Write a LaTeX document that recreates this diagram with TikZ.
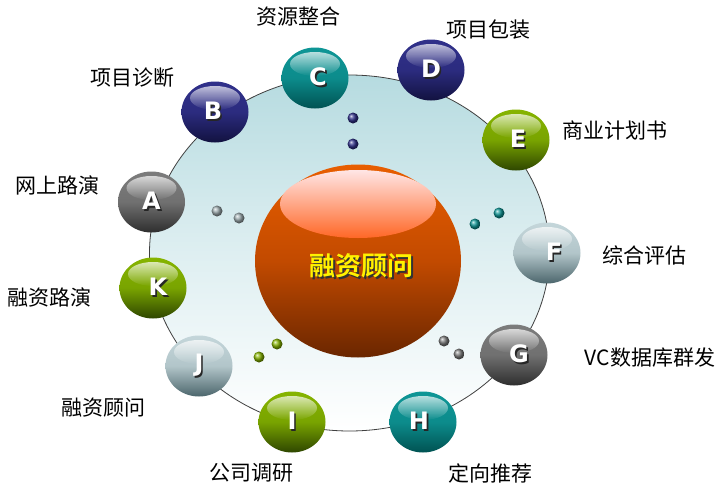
\documentclass[tikz,border=0pt]{standalone}
\usepackage{fontspec}
\newfontfamily\cjk{Noto Sans CJK SC}[BoldFont={Noto Sans CJK SC Bold}]
\newfontfamily\lat{DejaVu Sans}
\usetikzlibrary{shapes.geometric,fadings,calc}
\definecolor{navyA}{HTML}{30308A}\definecolor{navyB}{HTML}{121240}
\definecolor{tealA}{HTML}{0E9696}\definecolor{tealB}{HTML}{005252}
\definecolor{greenA}{HTML}{86B400}\definecolor{greenB}{HTML}{2E4600}
\definecolor{grayA}{HTML}{7C7C7C}\definecolor{grayB}{HTML}{2E2E2E}
\definecolor{paleA}{HTML}{C4D6DA}\definecolor{paleB}{HTML}{4C666C}
\definecolor{ringtop}{HTML}{B6DBE0}
\definecolor{orangeA}{HTML}{E85E00}\definecolor{orangeM}{HTML}{C24A00}\definecolor{orangeB}{HTML}{6A2600}
\newcommand\shadowtext[3]{\makebox[0pt][l]{\kern#3\raisebox{-#3}{\textcolor{#2}{#1}}}#1}
\tikzset{
  ballbase/.style={ellipse, minimum width=67pt, minimum height=61pt, inner sep=0pt},
  lbl/.style={font=\cjk\fontsize{21}{24}\selectfont, inner sep=0pt},
  letter/.style={font=\lat\bfseries\fontsize{24}{24}\selectfont, text=white, inner sep=0pt},
}
\newcommand\myball[6]{%
  \node[ballbase, top color=#3, bottom color=#4, middle color=#3!85!#4] (#1) at (#2) {};
  \fill[white, fill opacity=0.7, path fading=south] ($(#1.center)+(0,-14)$) ellipse [x radius=25pt, y radius=12pt];
  \node[letter] (#1t) at ($(#1.center)+(#6,0)$) {\shadowtext{#5}{black!85}{1.6pt}};
}
\begin{document}
\begin{tikzpicture}[x=1pt,y=-1pt]
\useasboundingbox (0,0) rectangle (728,490);
\fill[white] (0,0) rectangle (728,490);
% ring
\node[ellipse, draw=black!75, line width=0.8pt, minimum width=400pt, minimum height=356pt,
  top color=ringtop, bottom color=white, middle color=ringtop!45!white, inner sep=0pt] (ring) at (349.5,253) {};
% dots
\shade[ball color=navyA] (353,118) circle (5.5pt);
\shade[ball color=navyA] (353,144) circle (5.5pt);
\shade[ball color=paleA!80!black] (217,211) circle (5.5pt);
\shade[ball color=paleA!80!black] (239,218) circle (5.5pt);
\shade[ball color=tealA] (475,224) circle (5.5pt);
\shade[ball color=tealA] (499,213) circle (5.5pt);
\shade[ball color=grayA] (444,341) circle (5.5pt);
\shade[ball color=grayA] (459,354) circle (5.5pt);
\shade[ball color=greenA] (277,344) circle (5.5pt);
\shade[ball color=greenA] (259,357) circle (5.5pt);
% center
\node[ellipse, minimum width=206pt, minimum height=193pt, inner sep=0pt,
  top color=orangeA, bottom color=orangeB, middle color=orangeM] (core) at (358,261) {};
\shade[top color=white!90!red, bottom color=orange!60!red!85!white] ($(core.center)+(0,-57)$) ellipse [x radius=78pt, y radius=34pt];
\node[font=\cjk\bfseries\fontsize{26}{30}\selectfont, text=yellow, inner sep=0pt] (coreT) at ($(core.center)+(3.5,6)$) {\shadowtext{融资顾问}{black!80}{1.5pt}};
% balls
\myball{A}{151.5,202}{grayA}{grayB}{A}{0}
\myball{B}{215,112}{navyA}{navyB}{B}{-2}
\myball{C}{315,78}{tealA}{tealB}{C}{3}
\myball{D}{431,70}{navyA}{navyB}{D}{0}
\myball{E}{516,140}{greenA}{greenB}{E}{2}
\myball{F}{547,253}{paleA}{paleB}{F}{7}
\myball{G}{514,355}{grayA}{grayB}{G}{5}
\myball{H}{423,422}{tealA}{tealB}{H}{-4}
\myball{I}{292,422}{greenA}{greenB}{I}{0}
\myball{J}{199,366}{paleA}{paleB}{J}{0}
\myball{K}{153,288}{greenA}{greenB}{K}{5}
% labels
\node[lbl] (lA) at (58,185) {网上路演};
\node[lbl] (lB) at (132,78) {项目诊断};
\node[lbl] (lC) at (298,17) {资源整合};
\node[lbl] (lD) at (488,30) {项目包装};
\node[lbl] (lE) at (615,130) {商业计划书};
\node[lbl] (lF) at (644,255) {综合评估};
\node[lbl] (lG) at (650,358) {VC数据库群发};
\node[lbl] (lH) at (490,473) {定向推荐};
\node[lbl] (lI) at (251,473) {公司调研};
\node[lbl] (lJ) at (103,408) {融资顾问};
\node[lbl] (lK) at (49,297) {融资路演};
\end{tikzpicture}
\end{document}
